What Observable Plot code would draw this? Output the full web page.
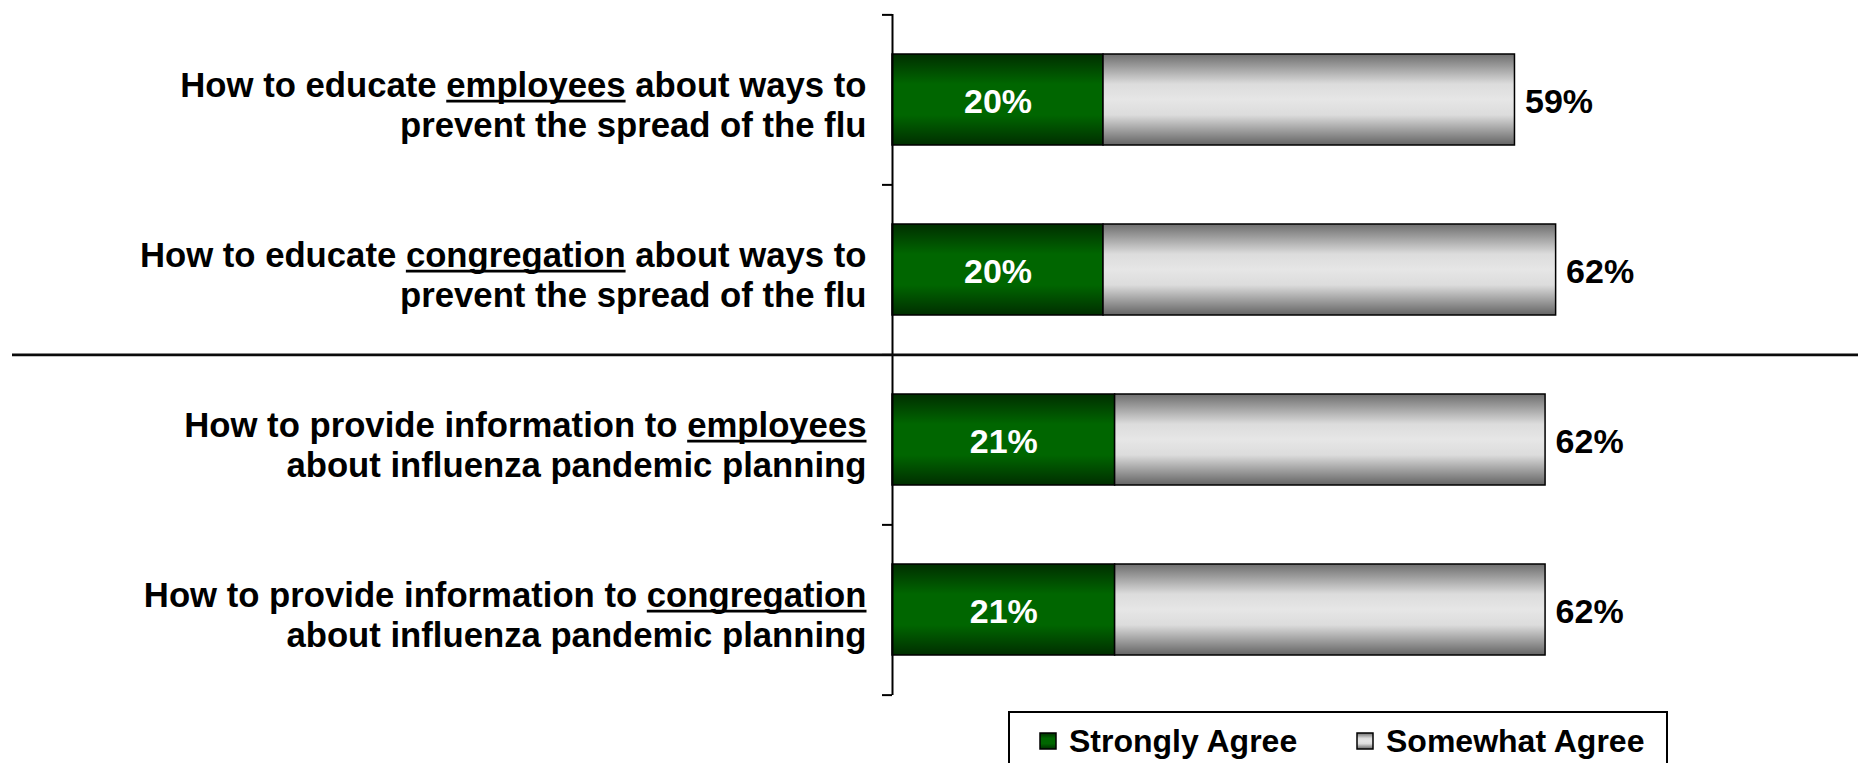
<!DOCTYPE html>
<html>
<head>
<meta charset="utf-8">
<script src="https://cdn.jsdelivr.net/npm/d3@7"></script>
<script src="https://cdn.jsdelivr.net/npm/@observablehq/plot@0.6"></script>
<style>
html, body { margin: 0; padding: 0; background: #fff; width: 1858px; height: 763px; overflow: hidden; position: relative; font-family: "Liberation Sans", Arial, sans-serif; }
#chart { position: absolute; left: 0; top: 0; }
#legend { position: absolute; left: 1008px; top: 711px; }
</style>
</head>
<body>
<div id="chart"></div>
<div id="legend"></div>
<script>
// ---- data ----
const categories = [
  "How to educate employees about ways to\nprevent the spread of the flu",
  "How to educate congregation about ways to\nprevent the spread of the flu",
  "How to provide information to employees\nabout influenza pandemic planning",
  "How to provide information to congregation\nabout influenza pandemic planning"
];
const underlined = ["employees", "congregation", "employees", "congregation"];
const strongly = [20, 20, 21.1, 21.1];   // Strongly Agree (%)
const somewhat = [39, 42.9, 40.8, 40.8]; // Somewhat Agree (%)
const totalLabels = ["59%", "62%", "62%", "62%"];
const strongLabels = ["20%", "20%", "21%", "21%"];
const series = ["Strongly Agree", "Somewhat Agree"];
const groupBreakBefore = 2;          // separator line above this category

const rows = categories.map((cat, i) => ({
  cat, strong: strongly[i], total: strongly[i] + somewhat[i],
  strongLabel: strongLabels[i], totalLabel: totalLabels[i]
}));

// ---- layout ----
const W = 1858, H = 705, mTop = 14, mBottom = 10, mLeft = 892;
const step = (H - mTop - mBottom) / categories.length;
const font = "'Liberation Sans', Arial, sans-serif";
const labelSize = 34.7;

const plot = Plot.plot({
  width: W, height: H,
  marginLeft: mLeft, marginRight: 0, marginTop: mTop, marginBottom: mBottom,
  style: {fontFamily: font, background: "white", overflow: "visible"},
  x: {domain: [0, 91.56], axis: null},
  y: {domain: categories, axis: null, paddingInner: 0.465, paddingOuter: 0.2325},
  marks: [
    Plot.barX(rows, {y: "cat", x1: 0, x2: "strong", fill: "url(#gradGreen)", stroke: "#000", strokeWidth: 1.5}),
    Plot.barX(rows, {y: "cat", x1: "strong", x2: "total", fill: "url(#gradGrey)", stroke: "#000", strokeWidth: 1.5}),
    Plot.ruleX([0], {stroke: "#000", strokeWidth: 2}),
    Plot.ruleY(categories, {y: d => d, dy: -step / 2, x1: 0, x2: 0, insetLeft: -10, stroke: "#000", strokeWidth: 2}),
    Plot.ruleY([categories[categories.length - 1]], {y: d => d, dy: step / 2, x1: 0, x2: 0, insetLeft: -10, stroke: "#000", strokeWidth: 2}),
    Plot.ruleY([categories[groupBreakBefore]], {y: d => d, dy: -step / 2, insetLeft: -(mLeft - 12), stroke: "#0a0a0a", strokeWidth: 2.6}),
    Plot.text(rows, {x: 0, y: "cat", text: "cat", textAnchor: "end", dx: -26, dy: 4, fontSize: labelSize, fontWeight: "bold", lineHeight: 1.17, fill: "#000"}),
    Plot.text(rows, {x: d => d.strong / 2, y: "cat", text: "strongLabel", fill: "#fff", fontSize: 34, fontWeight: "bold", dy: 2}),
    Plot.text(rows, {x: "total", y: "cat", text: "totalLabel", textAnchor: "start", dx: 10, dy: 2, fontSize: 34, fontWeight: "bold", fill: "#000"})
  ]
});

// gradients
const defs = d3.select(plot).insert("defs", ":first-child");
const g1 = defs.append("linearGradient").attr("id", "gradGreen").attr("x1", 0).attr("y1", 0).attr("x2", 0).attr("y2", 1);
[[0, "#002e00"], [0.33, "#006600"], [0.67, "#006600"], [1, "#002e00"]].forEach(([o, c]) => g1.append("stop").attr("offset", o).attr("stop-color", c));
const g2 = defs.append("linearGradient").attr("id", "gradGrey").attr("x1", 0).attr("y1", 0).attr("x2", 0).attr("y2", 1);
[[0, "#6e6e6e"], [0.33, "#dcdcdc"], [0.5, "#e6e6e6"], [0.67, "#dcdcdc"], [1, "#646464"]].forEach(([o, c]) => g2.append("stop").attr("offset", o).attr("stop-color", c));

document.getElementById("chart").appendChild(plot);

// underline key words in category labels (drawn as lines under the word)
const flat = categories.map(c => c.replace(/\n/g, ""));
plot.querySelectorAll("text").forEach(textEl => {
  const j = flat.indexOf(textEl.textContent);
  if (j < 0) return;
  const word = underlined[j];
  const lines = [];
  textEl.querySelectorAll("tspan").forEach(ts => {
    const t = ts.textContent;
    const k = t.indexOf(word);
    if (k < 0) return;
    ts.textContent = "";
    ts.appendChild(document.createTextNode(t.slice(0, k)));
    const u = document.createElementNS("http://www.w3.org/2000/svg", "tspan");
    u.textContent = word;
    ts.appendChild(u);
    ts.appendChild(document.createTextNode(t.slice(k + word.length)));
    lines.push(u);
  });
  lines.forEach(u => {
    const bb = u.getBBox();
    const baseline = bb.y + 0.905 * labelSize;
    const ln = document.createElementNS("http://www.w3.org/2000/svg", "line");
    const tr = textEl.getAttribute("transform");
    if (tr) ln.setAttribute("transform", tr);
    ln.setAttribute("x1", bb.x);
    ln.setAttribute("x2", bb.x + bb.width);
    ln.setAttribute("y1", baseline + 4);
    ln.setAttribute("y2", baseline + 4);
    ln.setAttribute("stroke", "#000");
    ln.setAttribute("stroke-width", 2.6);
    textEl.parentNode.appendChild(ln);
  });
});

// legend
const lg = d3.select("#legend").append("svg").attr("width", 662).attr("height", 52)
  .style("font-family", font).style("overflow", "visible");
lg.append("rect").attr("x", 1).attr("y", 1).attr("width", 658).attr("height", 70)
  .attr("fill", "#fff").attr("stroke", "#000").attr("stroke-width", 2);
const fills = ["url(#gradGreen)", "url(#gradGrey)"];
const swX = [32, 349];
series.forEach((s, i) => {
  lg.append("rect").attr("x", swX[i]).attr("y", 22).attr("width", 16).attr("height", 16)
    .attr("fill", fills[i]).attr("stroke", "#000").attr("stroke-width", 1.5);
  lg.append("text").attr("x", swX[i] + 29).attr("y", 41).attr("font-size", 32).attr("font-weight", "bold")
    .attr("fill", "#000").text(s);
});
</script>
</body>
</html>
